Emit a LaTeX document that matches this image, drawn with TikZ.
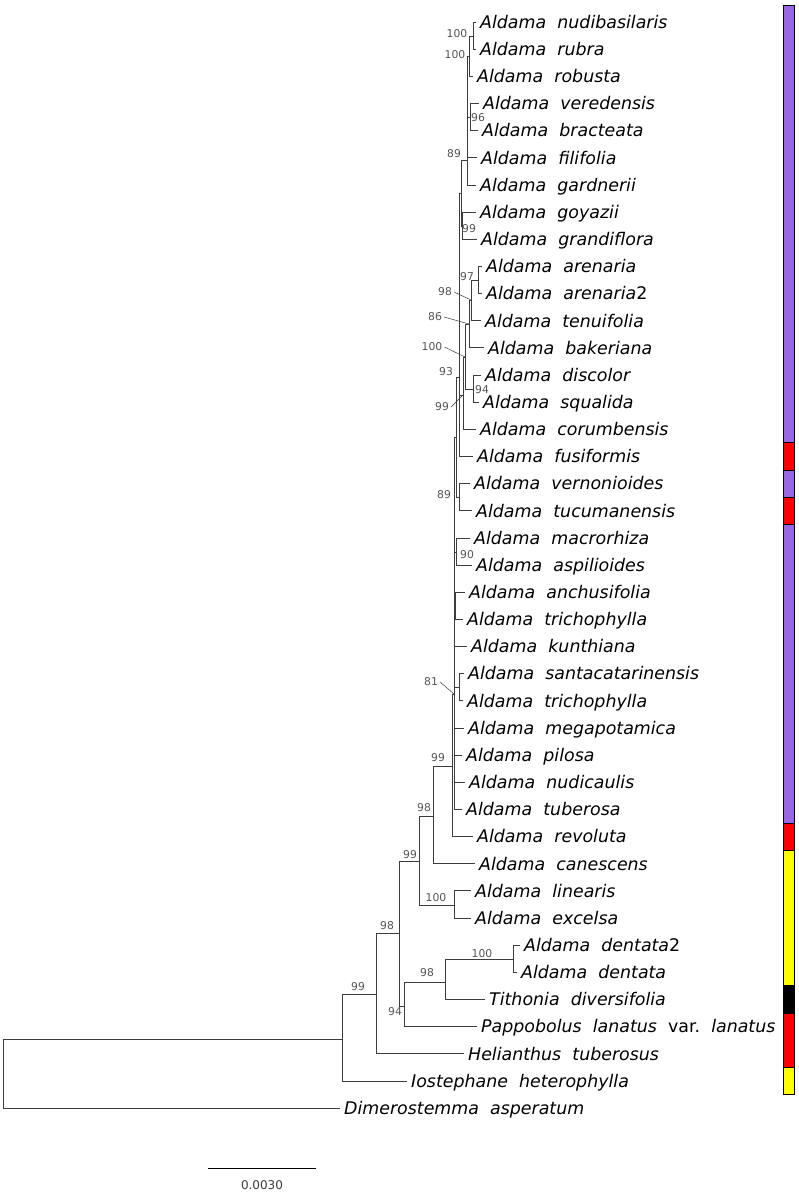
\documentclass[tikz,border=0pt]{standalone}
\usepackage{fontspec}
\setmainfont{DejaVu Sans}
\usetikzlibrary{positioning}
\definecolor{BranchGrey}{RGB}{60,60,60}
\definecolor{SupportGrey}{RGB}{85,85,85}
\definecolor{StatePurple}{RGB}{153,102,230}
\definecolor{StateRed}{RGB}{255,0,0}
\definecolor{StateYellow}{RGB}{255,255,0}
\newcommand{\ald}[1]{Aldama\hspace{0.64em}#1}

\begin{document}
\begin{tikzpicture}[x=1pt,y=-1pt,
  branch/.style={draw=BranchGrey,line width=0.8pt},
  leaf/.style={anchor=west,inner xsep=4pt,inner ysep=0pt,text height=12.6pt,text depth=0pt,font=\fontsize{17.4}{20}\selectfont\itshape},
  supp/.style={inner sep=0pt,text=SupportGrey,font=\fontsize{10.8}{12}\selectfont},
  leader/.style={draw=BranchGrey,line width=0.5pt}]
\fill[white] (0,0) rectangle (798,1194);
\useasboundingbox (0,0) rectangle (798,1194);
% internal nodes
\coordinate (root) at (3,1073);
\coordinate (nA) at (342,1039);
\coordinate (nB) at (376,994);
\coordinate (nC) at (399,933);
\coordinate (nE) at (404,1006);
\coordinate (nF) at (445,982);
\coordinate (nG) at (513,959);
\coordinate (nD) at (419,861);
\coordinate (nI) at (454,905);
\coordinate (nH) at (433,816);
\coordinate (nJ) at (452,766);
\coordinate (nK) at (454,694);
\coordinate (n89) at (456,437);
\coordinate (nVT) at (459,497);
\coordinate (n90) at (456,552);
\coordinate (nAT) at (455,606);
\coordinate (nST) at (459,687);
\coordinate (n93) at (459,377);
\coordinate (n89t) at (461,193);
\coordinate (nTop) at (467,160);
\coordinate (nNRR) at (469,56);
\coordinate (nNR) at (473,36);
\coordinate (nVB) at (470,117);
\coordinate (nGG) at (462,226);
\coordinate (n99) at (463,395);
\coordinate (n100) at (465,357);
\coordinate (n86) at (469,324);
\coordinate (n98) at (471,300);
\coordinate (n97) at (478,280);
\coordinate (n94) at (473,389);
% leaves
\node[leaf] (nudibasilaris) at (476,22.0) {\ald{nudibasilaris}};
\node[leaf] (rubra) at (476,49.2) {\ald{rubra}};
\node[leaf] (robusta) at (473,76.3) {\ald{robusta}};
\node[leaf] (veredensis) at (479,103.5) {\ald{veredensis}};
\node[leaf] (bracteata) at (478,130.6) {\ald{bracteata}};
\node[leaf] (filifolia) at (477,157.8) {\ald{filifolia}};
\node[leaf] (gardnerii) at (476,184.9) {\ald{gardnerii}};
\node[leaf] (goyazii) at (476,212.1) {\ald{goyazii}};
\node[leaf] (grandiflora) at (477,239.2) {\ald{grandiflora}};
\node[leaf] (arenaria) at (482,266.4) {\ald{arenaria}};
\node[leaf] (arenariaB) at (482,293.5) {\ald{arenaria{\upshape 2}}};
\node[leaf] (tenuifolia) at (481,320.7) {\ald{tenuifolia}};
\node[leaf] (bakeriana) at (484,347.8) {\ald{bakeriana}};
\node[leaf] (discolor) at (481,375.0) {\ald{discolor}};
\node[leaf] (squalida) at (479,402.1) {\ald{squalida}};
\node[leaf] (corumbensis) at (476,429.3) {\ald{corumbensis}};
\node[leaf] (fusiformis) at (473,456.4) {\ald{fusiformis}};
\node[leaf] (vernonioides) at (470,483.6) {\ald{vernonioides}};
\node[leaf] (tucumanensis) at (472,510.7) {\ald{tucumanensis}};
\node[leaf] (macrorhiza) at (470,537.9) {\ald{macrorhiza}};
\node[leaf] (aspilioides) at (472,565.0) {\ald{aspilioides}};
\node[leaf] (anchusifolia) at (465,592.2) {\ald{anchusifolia}};
\node[leaf] (trichophyllaA) at (463,619.3) {\ald{trichophylla}};
\node[leaf] (kunthiana) at (467,646.5) {\ald{kunthiana}};
\node[leaf] (santacatarinensis) at (464,673.6) {\ald{santacatarinensis}};
\node[leaf] (trichophyllaB) at (463,700.8) {\ald{trichophylla}};
\node[leaf] (megapotamica) at (464,727.9) {\ald{megapotamica}};
\node[leaf] (pilosa) at (462,755.1) {\ald{pilosa}};
\node[leaf] (nudicaulis) at (465,782.2) {\ald{nudicaulis}};
\node[leaf] (tuberosa) at (462,809.4) {\ald{tuberosa}};
\node[leaf] (revoluta) at (473,836.5) {\ald{revoluta}};
\node[leaf] (canescens) at (475,863.7) {\ald{canescens}};
\node[leaf] (linearis) at (471,890.8) {\ald{linearis}};
\node[leaf] (excelsa) at (471,918.0) {\ald{excelsa}};
\node[leaf] (dentataB) at (520,945.1) {\ald{dentata{\upshape 2}}};
\node[leaf] (dentata) at (517,972.3) {\ald{dentata}};
\node[leaf] (tithonia) at (485,999.4) {Tithonia\hspace{0.64em}diversifolia};
\node[leaf] (pappobolus) at (477,1026.6) {Pappobolus\hspace{0.64em}lanatus\hspace{0.64em}{\upshape var.}\hspace{0.64em}lanatus};
\node[leaf] (helianthus) at (464,1053.7) {Helianthus\hspace{0.64em}tuberosus};
\node[leaf] (iostephane) at (407,1080.9) {Iostephane\hspace{0.64em}heterophylla};
\node[leaf] (dimerostemma) at (340,1108.0) {Dimerostemma\hspace{0.64em}asperatum};
% branches
\draw[branch] (root) |- (nA);
\draw[branch] (root) |- (dimerostemma);
\draw[branch] (nA) |- (nB);
\draw[branch] (nA) |- (iostephane);
\draw[branch] (nB) |- (nC);
\draw[branch] (nB) |- (helianthus);
\draw[branch] (nC) |- (nD);
\draw[branch] (nC) |- (nE);
\draw[branch] (nE) |- (nF);
\draw[branch] (nE) |- (pappobolus);
\draw[branch] (nF) |- (nG);
\draw[branch] (nF) |- (tithonia);
\draw[branch] (nG) |- (dentataB);
\draw[branch] (nG) |- (dentata);
\draw[branch] (nD) |- (nH);
\draw[branch] (nD) |- (nI);
\draw[branch] (nI) |- (linearis);
\draw[branch] (nI) |- (excelsa);
\draw[branch] (nH) |- (nJ);
\draw[branch] (nH) |- (canescens);
\draw[branch] (nJ) |- (nK);
\draw[branch] (nJ) |- (revoluta);
\draw[branch] (nK) |- (n89);
\draw[branch] (nK) |- (n90);
\draw[branch] (nK) |- (nAT);
\draw[branch] (nK) |- (kunthiana);
\draw[branch] (nK) |- (nST);
\draw[branch] (nK) |- (megapotamica);
\draw[branch] (nK) |- (pilosa);
\draw[branch] (nK) |- (nudicaulis);
\draw[branch] (nK) |- (tuberosa);
\draw[branch] (n89) |- (n93);
\draw[branch] (n89) |- (nVT);
\draw[branch] (nVT) |- (vernonioides);
\draw[branch] (nVT) |- (tucumanensis);
\draw[branch] (n90) |- (macrorhiza);
\draw[branch] (n90) |- (aspilioides);
\draw[branch] (nAT) |- (anchusifolia);
\draw[branch] (nAT) |- (trichophyllaA);
\draw[branch] (nST) |- (santacatarinensis);
\draw[branch] (nST) |- (trichophyllaB);
\draw[branch] (n93) |- (n89t);
\draw[branch] (n93) |- (n99);
\draw[branch] (n93) |- (fusiformis);
\draw[branch] (n89t) |- (nTop);
\draw[branch] (n89t) |- (nGG);
\draw[branch] (nTop) |- (nNRR);
\draw[branch] (nTop) |- (nVB);
\draw[branch] (nTop) |- (filifolia);
\draw[branch] (nTop) |- (gardnerii);
\draw[branch] (nNRR) |- (nNR);
\draw[branch] (nNRR) |- (robusta);
\draw[branch] (nNR) |- (nudibasilaris);
\draw[branch] (nNR) |- (rubra);
\draw[branch] (nVB) |- (veredensis);
\draw[branch] (nVB) |- (bracteata);
\draw[branch] (nGG) |- (goyazii);
\draw[branch] (nGG) |- (grandiflora);
\draw[branch] (n99) |- (n100);
\draw[branch] (n99) |- (corumbensis);
\draw[branch] (n100) |- (n86);
\draw[branch] (n100) |- (n94);
\draw[branch] (n86) |- (n98);
\draw[branch] (n86) |- (bakeriana);
\draw[branch] (n98) |- (n97);
\draw[branch] (n98) |- (tenuifolia);
\draw[branch] (n97) |- (arenaria);
\draw[branch] (n97) |- (arenariaB);
\draw[branch] (n94) |- (discolor);
\draw[branch] (n94) |- (squalida);
% support values
\node[supp] (sNR) at (457,34) {100};
\node[supp] (sNRR) at (455,55) {100};
\node[supp] (sVB) at (478,118) {96};
\node[supp] (sTop) at (454,154) {89};
\node[supp] (sGG) at (469,229) {99};
\node[supp] (s97) at (467,277) {97};
\node[supp] (s98) at (445,292) {98};
\node[supp] (s86) at (435,317) {86};
\node[supp] (s100) at (432,347) {100};
\node[supp] (s93) at (446,372) {93};
\node[supp] (s94) at (482,390) {94};
\node[supp] (s99) at (442,407) {99};
\node[supp] (s89) at (444,495) {89};
\node[supp] (s90) at (467,555) {90};
\node[supp] (s81) at (431,682) {81};
\node[supp] (sJ) at (438,758) {99};
\node[supp] (sH) at (424,808) {98};
\node[supp] (sD) at (410,855) {99};
\node[supp] (sI) at (436,898) {100};
\node[supp] (sC) at (387,926) {98};
\node[supp] (sB) at (358,987) {99};
\node[supp] (sF) at (427,973) {98};
\node[supp] (sG) at (482,954) {100};
\node[supp] (sE) at (395,1012) {94};
\draw[leader] ([xshift=2pt]s98.east) -- (n98);
\draw[leader] ([xshift=2pt]s86.east) -- (n86);
\draw[leader] ([xshift=2pt]s100.east) -- (n100);
\draw[leader] ([xshift=2pt]s99.east) -- (n99);
\draw[leader] ([xshift=2pt]s81.east) -- (nK);
% scale bar
\coordinate (sbl) at (208,1168);
\coordinate (sbr) at (316,1168);
\draw[line width=0.9pt] (sbl) -- (sbr);
\node[text=BranchGrey,font=\fontsize{12}{14}\selectfont] (sblabel) at (262,1185) {0.0030};
% state bar
\draw[fill=StatePurple,line width=0.8pt] (783,5) rectangle (794,442.8);
\draw[fill=StateRed,line width=0.8pt] (783,442.8) rectangle (794,470.0);
\draw[fill=StatePurple,line width=0.8pt] (783,470.0) rectangle (794,497.1);
\draw[fill=StateRed,line width=0.8pt] (783,497.1) rectangle (794,524.3);
\draw[fill=StatePurple,line width=0.8pt] (783,524.3) rectangle (794,822.9);
\draw[fill=StateRed,line width=0.8pt] (783,822.9) rectangle (794,850.1);
\draw[fill=StateYellow,line width=0.8pt] (783,850.1) rectangle (794,985.8);
\draw[fill=black,line width=0.8pt] (783,985.8) rectangle (794,1013.0);
\draw[fill=StateRed,line width=0.8pt] (783,1013.0) rectangle (794,1067.3);
\draw[fill=StateYellow,line width=0.8pt] (783,1067.3) rectangle (794,1094.5);
\end{tikzpicture}
\end{document}
